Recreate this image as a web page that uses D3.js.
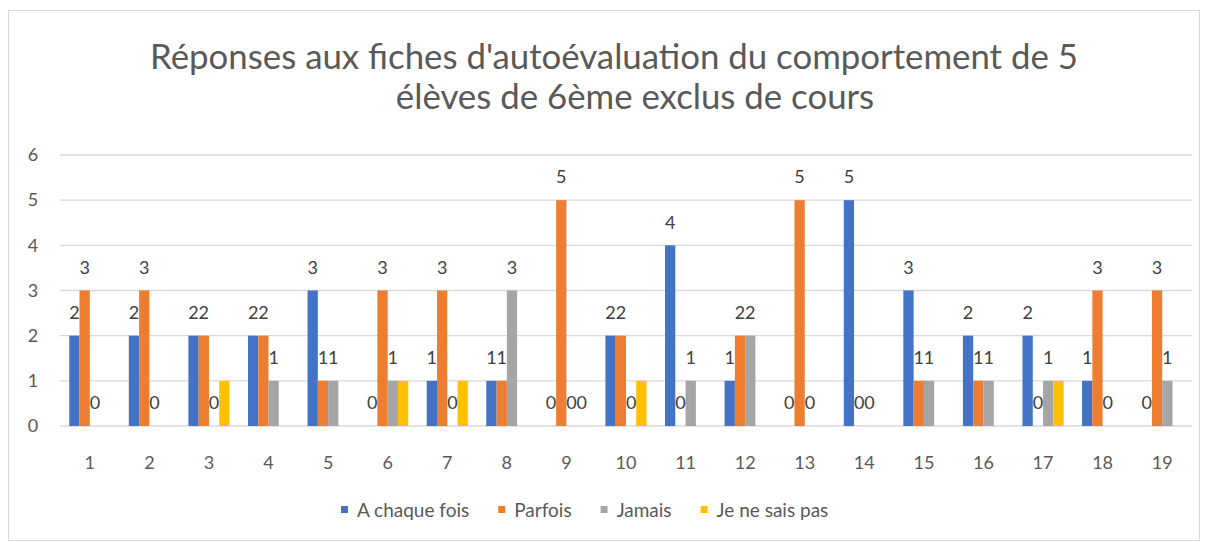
<!DOCTYPE html>
<html>
<head>
<meta charset="utf-8">
<script src="https://cdnjs.cloudflare.com/ajax/libs/d3/7.8.5/d3.min.js"></script>
<style>
  body { margin: 0; background: #fff; }
  #chart { width: 1208px; height: 543px; }
  text { font-family: Lato, "Open Sans", sans-serif; }
</style>
</head>
<body>
<div id="chart"></div>
<script>

var categories = ["1","2","3","4","5","6","7","8","9","10","11","12","13","14","15","16","17","18","19"];
var seriesNames = ["A chaque fois", "Parfois", "Jamais", "Je ne sais pas"];

// null = pas de réponse (ni barre ni étiquette)
var aChaqueFois = [2,2,2,2,3,0,1,1,0,2,4,1,0,5,3,2,2,1,0];
var parfois     = [3,3,2,2,1,3,3,1,5,2,0,2,5,0,1,1,0,3,3];
var jamais      = [0,0,0,1,1,1,0,3,0,0,1,2,0,0,1,1,1,0,1];
var jeNeSaisPas = [null,null,1,null,null,1,1,null,0,1,null,null,null,null,null,null,1,null,null];

var yTicks = [0,1,2,3,4,5,6];
var colors = ["#4472C4", "#ED7D31", "#A5A5A5", "#FFC000"];

var allSeries = [aChaqueFois, parfois, jamais, jeNeSaisPas];

var width = 1208, height = 543;
var svg = d3.select("#chart")
    .append("svg")
    .attr("width", width)
    .attr("height", height);

// cadre du graphique
svg.append("rect")
    .attr("x", 8.5).attr("y", 10.5)
    .attr("width", 1191).attr("height", 530)
    .attr("fill", "white")
    .attr("stroke", "#d9d9d9");

// titre
var title1 = svg.append("text")
    .attr("x", 614).attr("y", 69)
    .attr("text-anchor", "middle")
    .attr("fill", "#595959")
    .attr("font-size", "27px")
    .text("Réponses aux fiches d'autoévaluation du comportement de 5");
var title2 = svg.append("text")
    .attr("x", 635).attr("y", 109)
    .attr("text-anchor", "middle")
    .attr("fill", "#595959")
    .attr("font-size", "27px")
    .text("élèves de 6ème exclus de cours");

// ajuste la taille pour coller à la largeur de la ligne 1
var w1 = title1.node().getComputedTextLength();
var fs = 27 * 928 / w1;
title1.attr("font-size", fs + "px");
title2.attr("font-size", fs + "px");

var x0 = d3.scaleBand()
    .domain(categories)
    .range([60, 1192])
    .paddingInner(0.31)
    .paddingOuter(0.155);

var x1 = d3.scaleBand()
    .domain(d3.range(4))
    .range([0, x0.bandwidth()]);

var y = d3.scaleLinear()
    .domain([0, 6])
    .range([426, 155]);

// grille
svg.append("g")
    .selectAll("line")
    .data(yTicks)
    .enter()
    .append("line")
    .attr("x1", 60).attr("x2", 1192)
    .attr("y1", function(d){ return y(d); })
    .attr("y2", function(d){ return y(d); })
    .attr("stroke", "#d9d9d9")
    .attr("stroke-width", 1.3);

// axe Y
svg.append("g")
    .selectAll("text")
    .data(yTicks)
    .enter()
    .append("text")
    .attr("x", 33)
    .attr("y", function(d){ return y(d); })
    .attr("dy", "0.35em")
    .attr("text-anchor", "middle")
    .attr("fill", "#595959")
    .attr("font-size", "18px")
    .text(function(d){ return d; });

// axe X
svg.append("g")
    .selectAll("text")
    .data(categories)
    .enter()
    .append("text")
    .attr("x", function(d){ return x0(d) + x0.bandwidth()/2; })
    .attr("y", 463)
    .attr("dy", "0.35em")
    .attr("text-anchor", "middle")
    .attr("fill", "#595959")
    .attr("font-size", "18px")
    .text(function(d){ return d; });

// données à plat
var flat = [];
categories.forEach(function(c, i){
    allSeries.forEach(function(s, k){
        if (s[i] !== null) flat.push({cat: c, k: k, v: s[i]});
    });
});

svg.append("g")
    .selectAll("rect")
    .data(flat)
    .enter()
    .append("rect")
    .attr("x", function(d){ return x0(d.cat) + x1(d.k); })
    .attr("width", x1.bandwidth())
    .attr("y", function(d){ return y(d.v); })
    .attr("height", function(d){ return y(0) - y(d.v); })
    .attr("fill", function(d){ return colors[d.k]; });

// étiquettes (la série jaune n'en a que pour les zéros)
svg.append("g")
    .selectAll("text")
    .data(flat.filter(function(d){ return d.k < 3 || d.v === 0; }))
    .enter()
    .append("text")
    .attr("x", function(d){ return x0(d.cat) + x1(d.k) + x1.bandwidth()/2; })
    .attr("y", function(d){ return y(d.v) - 23; })
    .attr("dy", "0.35em")
    .attr("text-anchor", "middle")
    .attr("fill", "#404040")
    .attr("font-size", "18px")
    .text(function(d){ return d.v; });

// légende
var legend = svg.append("g");
var lx = 341;
seriesNames.forEach(function(name, k){
    legend.append("rect")
        .attr("x", lx).attr("y", 506)
        .attr("width", 7).attr("height", 7)
        .attr("fill", colors[k]);
    var t = legend.append("text")
        .attr("x", lx + 16).attr("y", 510)
        .attr("dy", "0.35em")
        .attr("fill", "#595959")
        .attr("font-size", "19px")
        .text(name);
    lx += 16 + t.node().getComputedTextLength() + 29;
});

</script>
</body>
</html>
